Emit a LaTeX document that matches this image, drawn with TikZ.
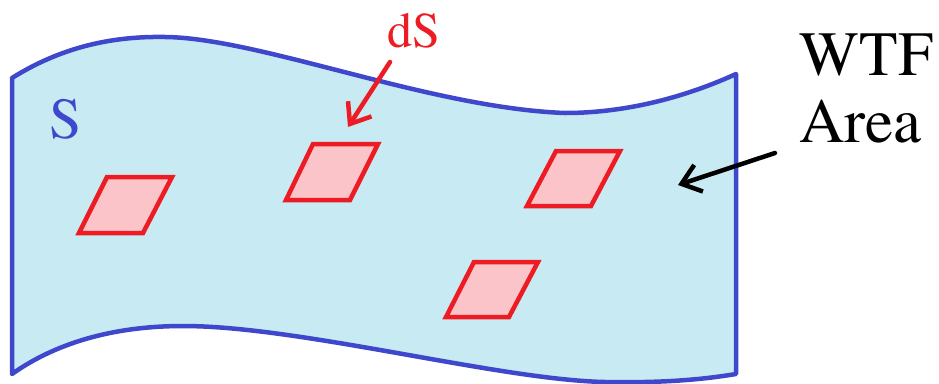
\documentclass[tikz,border=0pt]{standalone}
\usepackage{fontspec}
\newfontfamily\labelfont{texgyretermes-regular.otf}
\usetikzlibrary{arrows.meta}
\definecolor{edgeblue}{RGB}{63,72,204}
\definecolor{sheetfill}{RGB}{200,235,243}
\definecolor{patchred}{RGB}{237,28,36}
\definecolor{patchfill}{RGB}{251,196,200}
\tikzset{
  sheet/.style={draw=edgeblue, fill=sheetfill, line width=4.5pt, line join=round},
  patch/.style={draw=patchred, fill=patchfill, line width=4.5pt, line join=miter},
  lbl/.style={inner sep=0pt, anchor=base west},
  pointer/.style={line width=4.5pt, line cap=round, -{Straight Barb[length=18pt,width=28pt,line width=4.5pt]}}
}
\begin{document}
\begin{tikzpicture}[x=1pt,y=-1pt]
\useasboundingbox (0,0) rectangle (939,383);
% surface
\path[sheet] (12,78) .. controls (60,48) and (110,36) .. (165,37)
  .. controls (260,38) and (430,108) .. (565,113)
  .. controls (630,113) and (690,95) .. (736,74)
  -- (736,374)
  .. controls (700,380) and (660,383) .. (605,382)
  .. controls (500,380) and (300,326) .. (183,326)
  .. controls (120,326) and (60,340) .. (12,374) -- cycle;
% patches
\path[patch] (107,177) -- (172,177) -- (143,233) -- (79,233) -- cycle;
\path[patch] (313,144) -- (378,144) -- (350,200) -- (286,200) -- cycle;
\path[patch] (556,151) -- (620,151) -- (591,206) -- (527,206) -- cycle;
\path[patch] (474,262) -- (538,262) -- (509,317) -- (446,317) -- cycle;
% labels
\node[lbl, text=edgeblue, font=\labelfont\fontsize{58}{60}\selectfont] (S) at (49,138) {S};
\node[lbl, text=patchred, font=\labelfont\fontsize{50}{54}\selectfont] (dS) at (387,47) {dS};
\node[lbl, text=black, font=\labelfont\fontsize{63}{67}\selectfont, align=left] (wtf) at (799,142) {WTF\\Area};
% pointers
\coordinate (dsfrom) at (390,62);
\coordinate (dsto) at (348,127);
\coordinate (wtffrom) at (775,153);
\coordinate (wtfto) at (678,185);
\draw[pointer, draw=patchred] (dsfrom) -- (dsto);
\draw[pointer, draw=black] (wtffrom) -- (wtfto);
\end{tikzpicture}
\end{document}
